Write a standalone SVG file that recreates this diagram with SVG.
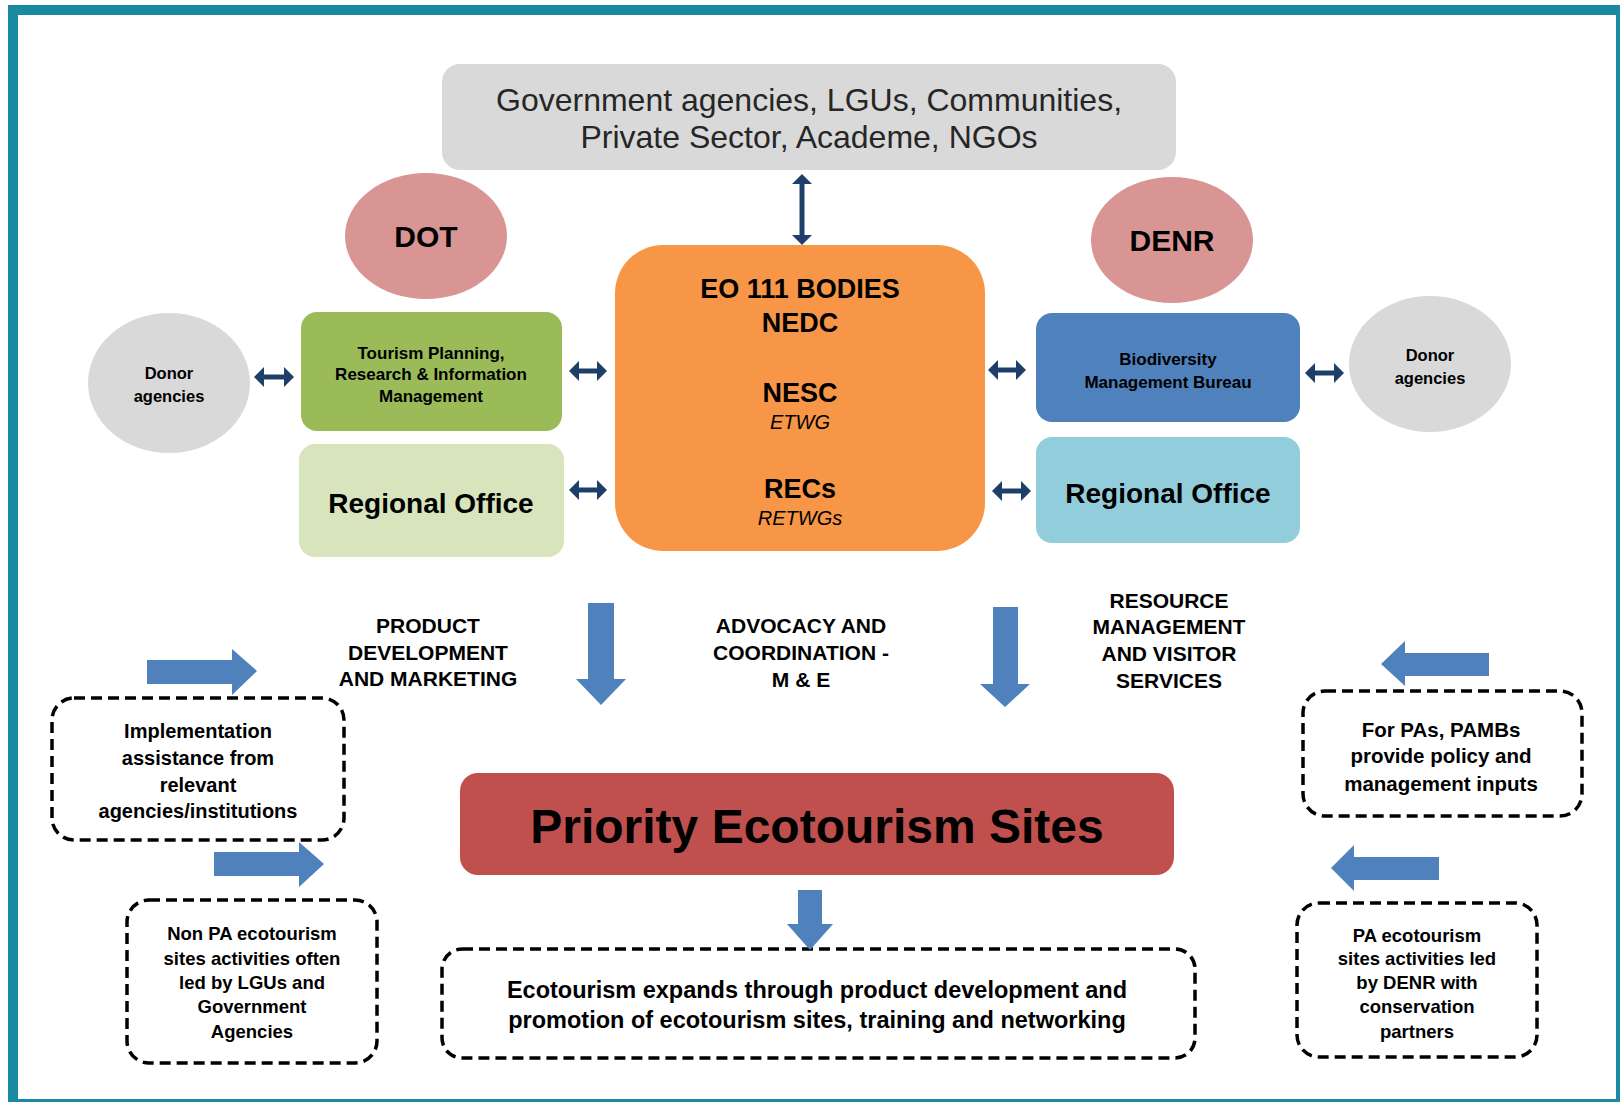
<svg xmlns="http://www.w3.org/2000/svg" width="1620" height="1102" viewBox="0 0 1620 1102">
<defs>
<marker id="dh" viewBox="0 0 10 20" refX="2" refY="10" markerWidth="10" markerHeight="20" markerUnits="userSpaceOnUse" orient="auto-start-reverse">
<path d="M0,0 L10,10 L0,20 Z" fill="#1f3f6b"/>
</marker>
</defs>
<style>
text{font-family:"Liberation Sans",Arial,sans-serif;fill:#000;text-anchor:middle;dominant-baseline:central}
.b{font-weight:bold}
.it{font-style:italic}
.dash{fill:none;stroke:#000;stroke-width:3.5;stroke-dasharray:11 6}
.blk{fill:#4f81bd}
.dbl{stroke:#1f3f6b;stroke-width:5;fill:none;marker-start:url(#dh);marker-end:url(#dh)}
</style>
<rect x="0" y="0" width="1620" height="1102" fill="#fff"/>
<rect x="13" y="10" width="1608" height="1094" fill="none" stroke="#1a8aa0" stroke-width="10"/>

<g id="stakeholders">
<rect x="442" y="64" width="734" height="106" rx="18" fill="#d9d9d9"/>
<text x="809" y="100" style="font-size:32px;fill:#262626">Government agencies, LGUs, Communities,</text>
<text x="809" y="137" style="font-size:32px;fill:#262626">Private Sector, Academe, NGOs</text>
</g>

<g id="dot">
<ellipse cx="426" cy="236" rx="81" ry="63" fill="#d99594"/>
<text x="426" y="236" class="b" style="font-size:30px">DOT</text>
</g>

<g id="denr">
<ellipse cx="1172" cy="240" rx="81" ry="63" fill="#d99594"/>
<text x="1172" y="240" class="b" style="font-size:30px">DENR</text>
</g>

<g id="eo111">
<rect x="615" y="245" width="370" height="306" rx="48" fill="#f79646"/>
<text x="800" y="289" class="b" style="font-size:27px">EO 111 BODIES</text>
<text x="800" y="323" class="b" style="font-size:27px">NEDC</text>
<text x="800" y="393" class="b" style="font-size:27px">NESC</text>
<text x="800" y="422" class="it" style="font-size:20px">ETWG</text>
<text x="800" y="489" class="b" style="font-size:27px">RECs</text>
<text x="800" y="518" class="it" style="font-size:20px">RETWGs</text>
</g>

<g id="donor-left">
<ellipse cx="169" cy="383" rx="81" ry="70" fill="#d9d9d9"/>
<text x="169" y="373" class="b" style="font-size:16.5px">Donor</text>
<text x="169" y="396" class="b" style="font-size:16.5px">agencies</text>
</g>

<g id="tourism-planning">
<rect x="301" y="312" width="261" height="119" rx="16" fill="#9bbb59"/>
<text x="431" y="353" class="b" style="font-size:17px">Tourism Planning,</text>
<text x="431" y="374" class="b" style="font-size:17px">Research &amp; Information</text>
<text x="431" y="396" class="b" style="font-size:17px">Management</text>
</g>

<g id="regional-dot">
<rect x="299" y="444" width="265" height="113" rx="16" fill="#d7e4bc"/>
<text x="431" y="503" class="b" style="font-size:28px">Regional Office</text>
</g>

<g id="bmb">
<rect x="1036" y="313" width="264" height="109" rx="16" fill="#4f81bd"/>
<text x="1168" y="359" class="b" style="font-size:17px">Biodiversity</text>
<text x="1168" y="382" class="b" style="font-size:17px">Management Bureau</text>
</g>

<g id="regional-denr">
<rect x="1036" y="437" width="264" height="106" rx="16" fill="#92cddc"/>
<text x="1168" y="493" class="b" style="font-size:28px">Regional Office</text>
</g>

<g id="donor-right">
<ellipse cx="1430" cy="364" rx="81" ry="68" fill="#d9d9d9"/>
<text x="1430" y="355" class="b" style="font-size:16.5px">Donor</text>
<text x="1430" y="378" class="b" style="font-size:16.5px">agencies</text>
</g>

<g id="label-product">
<text x="428" y="625" class="b" style="font-size:21px">PRODUCT</text>
<text x="428" y="652" class="b" style="font-size:21px">DEVELOPMENT</text>
<text x="428" y="678" class="b" style="font-size:21px">AND MARKETING</text>
</g>

<g id="label-advocacy">
<text x="801" y="625" class="b" style="font-size:21px">ADVOCACY AND</text>
<text x="801" y="652" class="b" style="font-size:21px">COORDINATION -</text>
<text x="801" y="679" class="b" style="font-size:21px">M &amp; E</text>
</g>

<g id="label-resource">
<text x="1169" y="600" class="b" style="font-size:21px">RESOURCE</text>
<text x="1169" y="626" class="b" style="font-size:21px">MANAGEMENT</text>
<text x="1169" y="653" class="b" style="font-size:21px">AND VISITOR</text>
<text x="1169" y="680" class="b" style="font-size:21px">SERVICES</text>
</g>

<g id="implementation">
<rect x="52" y="698" width="292" height="142" rx="22" class="dash"/>
<text x="198" y="731" class="b" style="font-size:20px">Implementation</text>
<text x="198" y="758" class="b" style="font-size:20px">assistance from</text>
<text x="198" y="785" class="b" style="font-size:20px">relevant</text>
<text x="198" y="811" class="b" style="font-size:20px">agencies/institutions</text>
</g>

<g id="non-pa">
<rect x="127" y="900" width="250" height="163" rx="22" class="dash"/>
<text x="252" y="933" class="b" style="font-size:18.5px">Non PA ecotourism</text>
<text x="252" y="958" class="b" style="font-size:18.5px">sites activities often</text>
<text x="252" y="982" class="b" style="font-size:18.5px">led by LGUs and</text>
<text x="252" y="1006" class="b" style="font-size:18.5px">Government</text>
<text x="252" y="1031" class="b" style="font-size:18.5px">Agencies</text>
</g>

<g id="priority">
<rect x="460" y="773" width="714" height="102" rx="18" fill="#c0504d"/>
<text x="817" y="826" class="b" style="font-size:48px">Priority Ecotourism Sites</text>
</g>

<g id="ecotourism-expands">
<rect x="442" y="949" width="753" height="109" rx="20" class="dash"/>
<text x="817" y="990" class="b" style="font-size:23.5px">Ecotourism expands through product development and</text>
<text x="817" y="1020" class="b" style="font-size:23.5px">promotion of ecotourism sites, training and networking</text>
</g>

<g id="for-pas">
<rect x="1303" y="691" width="279" height="125" rx="22" class="dash"/>
<text x="1441" y="729" class="b" style="font-size:20.5px">For PAs, PAMBs</text>
<text x="1441" y="755" class="b" style="font-size:20.5px">provide policy and</text>
<text x="1441" y="783" class="b" style="font-size:20.5px">management inputs</text>
</g>

<g id="pa-sites">
<rect x="1297" y="903" width="240" height="154" rx="22" class="dash"/>
<text x="1417" y="935" class="b" style="font-size:18.5px">PA ecotourism</text>
<text x="1417" y="958" class="b" style="font-size:18.5px">sites activities led</text>
<text x="1417" y="982" class="b" style="font-size:18.5px">by DENR with</text>
<text x="1417" y="1006" class="b" style="font-size:18.5px">conservation</text>
<text x="1417" y="1031" class="b" style="font-size:18.5px">partners</text>
</g>

<g id="connectors">
<line x1="802" y1="182" x2="802" y2="237" class="dbl"/>
<line x1="262" y1="377" x2="286" y2="377" class="dbl"/>
<line x1="577" y1="371" x2="599" y2="371" class="dbl"/>
<line x1="577" y1="490" x2="599" y2="490" class="dbl"/>
<line x1="996" y1="370" x2="1018" y2="370" class="dbl"/>
<line x1="1313" y1="373" x2="1336" y2="373" class="dbl"/>
<line x1="1000" y1="491" x2="1023" y2="491" class="dbl"/>
<polygon class="blk" points="588,603 614,603 614,679 626,679 601,705 576,679 588,679"/>
<polygon class="blk" points="993,607 1018,607 1018,684 1030,684 1005,707 980,684 993,684"/>
<polygon class="blk" points="798,890 822,890 822,924 833,924 810,950 787,924 798,924"/>
<polygon class="blk" points="147,660 232,660 232,649 257,671 232,695 232,684 147,684"/>
<polygon class="blk" points="214,852 299,852 299,842 324,864 299,887 299,876 214,876"/>
<polygon class="blk" points="1489,653 1405,653 1405,641 1381,664 1405,686 1405,676 1489,676"/>
<polygon class="blk" points="1439,857 1354,857 1354,845 1331,868 1354,891 1354,880 1439,880"/>
</g>
</svg>
